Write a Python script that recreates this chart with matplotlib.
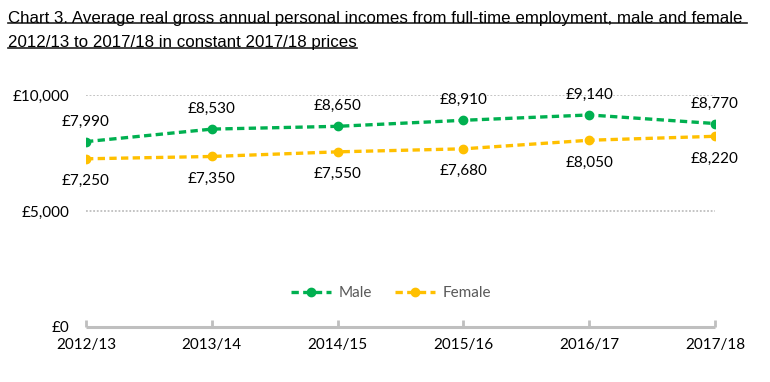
import matplotlib.pyplot as plt

years = ['2012/13', '2013/14', '2014/15', '2015/16', '2016/17', '2017/18']
male = [7990, 8530, 8650, 8910, 9140, 8770]
female = [7250, 7350, 7550, 7680, 8050, 8220]
yticks = [0, 5000, 10000]
ytick_labels = ['£0', '£5,000', '£10,000']

green = '#00B050'
yellow = '#FFC000'

plt.rcParams['font.family'] = ['Lato', 'DejaVu Sans']

fig = plt.figure(figsize=(7.7, 3.82), dpi=100)
ax = fig.add_axes([86 / 770, 1 - 327 / 382, (715 - 86) / 770, (327 - 95) / 382])

x = list(range(len(years)))

# gridlines
for v in yticks[1:]:
    ax.axhline(v, color='#BFBFBF', lw=1.3, ls=(0, (1, 1)), zorder=1)

ax.plot(x, male, color=green, lw=2.4, ls=(0, (2.2, 1.3)), marker='o', ms=6, label='Male', zorder=3)
ax.plot(x, female, color=yellow, lw=2.4, ls=(0, (2.2, 1.3)), marker='o', ms=6, label='Female', zorder=3)

for i in x:
    ax.annotate(f'£{male[i]:,}', (i, male[i]), xytext=(0, 14.5), textcoords='offset points',
                ha='center', va='center', fontsize=11, color='black')
    ax.annotate(f'£{female[i]:,}', (i, female[i]), xytext=(0, -16), textcoords='offset points',
                ha='center', va='center', fontsize=11, color='black')

ax.set_xlim(0, len(years) - 1)
ax.set_ylim(0, 10000)
ax.set_xticks(x)
ax.set_xticklabels(years, fontsize=11)
ax.set_yticks(yticks)
ax.set_yticklabels(ytick_labels, fontsize=11)

for s in ['top', 'right', 'left']:
    ax.spines[s].set_visible(False)
ax.spines['bottom'].set_color('#BFBFBF')
ax.spines['bottom'].set_linewidth(2.2)
ax.spines['bottom'].set_capstyle('butt')
ax.tick_params(axis='x', direction='in', length=5, width=2, color='#BFBFBF', pad=8)
ax.tick_params(axis='y', length=0, pad=12)

leg = ax.legend(loc='center', bbox_to_anchor=(0.485, 0.147), ncol=2, frameon=False,
                fontsize=11, handlelength=2.6, columnspacing=1.5, handletextpad=0.5)
for t in leg.get_texts():
    t.set_color('#595959')

t1 = fig.text(8 / 770, 1 - 18 / 382, 'Chart 3. Average real gross annual personal incomes from full-time employment, male and female ',
              fontsize=12, family='Liberation Sans', va='center', ha='left')
t2 = fig.text(8 / 770, 1 - 43 / 382, '2012/13 to 2017/18 in constant 2017/18 prices',
              fontsize=12, family='Liberation Sans', va='center', ha='left')

# shrink title to fit the width of the reference line
fig.canvas.draw()
r = fig.canvas.get_renderer()
w = t1.get_window_extent(r).width
size = 12 * 737 / w
t1.set_fontsize(size)
t2.set_fontsize(size)

fig.canvas.draw()
for t in (t1, t2):
    bb = t.get_window_extent(r).transformed(fig.transFigure.inverted())
    fig.add_artist(plt.Line2D([bb.x0, bb.x1], [bb.y0 + 0.006, bb.y0 + 0.006], color='#222222', lw=1.2,
                              transform=fig.transFigure))

fig.savefig('out.png', dpi=100)
